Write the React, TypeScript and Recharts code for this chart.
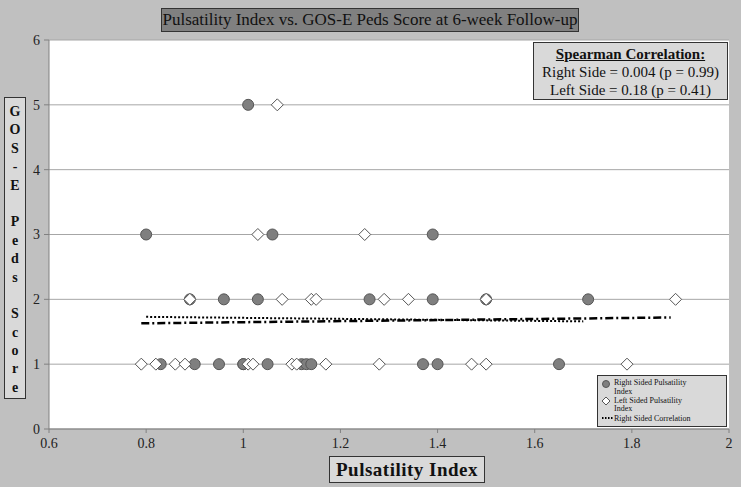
import React from "react";
import { CartesianGrid, ReferenceLine, Scatter, ScatterChart, XAxis, YAxis } from "recharts";

const rightPI = [
  0.83, 0.9, 0.95, 1.0, 1.0, 1.05, 1.12, 1.13, 1.14, 1.37, 1.4, 1.65,
  0.89, 0.96, 1.03, 1.26, 1.39, 1.5, 1.71,
  0.8, 1.06, 1.39,
  1.01,
];
const rightScore = [1, 1, 1, 1, 1, 1, 1, 1, 1, 1, 1, 1, 2, 2, 2, 2, 2, 2, 2, 3, 3, 3, 5];

const leftPI = [
  0.79, 0.82, 0.86, 0.88, 1.01, 1.02, 1.1, 1.11, 1.17, 1.28, 1.47, 1.5, 1.79,
  0.89, 1.08, 1.14, 1.15, 1.29, 1.34, 1.5, 1.89,
  1.03, 1.25,
  1.07,
];
const leftScore = [1, 1, 1, 1, 1, 1, 1, 1, 1, 1, 1, 1, 1, 2, 2, 2, 2, 2, 2, 2, 2, 3, 3, 5];

const rightFitX = [0.8, 1.7];
const rightFitY = [1.73, 1.66];
const leftFitX = [0.79, 1.88];
const leftFitY = [1.63, 1.72];

const xTicks = [0.6, 0.8, 1, 1.2, 1.4, 1.6, 1.8, 2];
const yTicks = [0, 1, 2, 3, 4, 5, 6];

const yLabelLetters = ["G", "O", "S", "-", "E", "", "P", "e", "d", "s", "", "S", "c", "o", "r", "e"];

const rightData = rightPI.map((x, i) => ({ x, y: rightScore[i] }));
const leftData = leftPI.map((x, i) => ({ x, y: leftScore[i] }));

const serif = "'Liberation Serif', 'Times New Roman', serif";

const Circle = (props: any) => (
  <circle cx={props.cx} cy={props.cy} r={5.5} fill="#7f7f7f" stroke="#555" strokeWidth={1} />
);

const Diamond = (props: any) => {
  const { cx, cy } = props;
  const s = 6;
  return (
    <polygon
      points={`${cx},${cy - s} ${cx + s},${cy} ${cx},${cy + s} ${cx - s},${cy}`}
      fill="#fff"
      stroke="#555"
      strokeWidth={1}
    />
  );
};

const tickStyle = { fontFamily: serif, fontSize: 14, fill: "#222" };

export default function App() {
  return (
    <div style={{ position: "absolute", left: 0, top: 0, width: 741, height: 487, background: "#c0c0c0", fontFamily: serif }}>
      <ScatterChart
        width={741}
        height={487}
        margin={{ top: 40, right: 12, left: 0, bottom: 0 }}
        style={{ fontFamily: serif }}
      >
        <CartesianGrid vertical={false} stroke="#a6a6a6" fill="#fff" />
        <XAxis
          type="number"
          dataKey="x"
          domain={[0.6, 2]}
          ticks={xTicks}
          height={58}
          stroke="#808080"
          tickSize={4}
          tick={tickStyle}
          tickMargin={5}
          allowDataOverflow
        />
        <YAxis
          type="number"
          dataKey="y"
          domain={[0, 6]}
          ticks={yTicks}
          width={49}
          stroke="#808080"
          tickSize={5}
          tick={tickStyle}
          tickMargin={4}
        />
        <Scatter data={rightData} shape={Circle} isAnimationActive={false} />
        <Scatter data={leftData} shape={Diamond} isAnimationActive={false} />
        <ReferenceLine
          segment={[
            { x: leftFitX[0], y: leftFitY[0] },
            { x: leftFitX[1], y: leftFitY[1] },
          ]}
          stroke="#000"
          strokeWidth={2.5}
          strokeDasharray="8 3 2 3"
        />
        <ReferenceLine
          segment={[
            { x: rightFitX[0], y: rightFitY[0] },
            { x: rightFitX[1], y: rightFitY[1] },
          ]}
          stroke="#000"
          strokeWidth={2}
          strokeDasharray="2 2"
        />
      </ScatterChart>

      {/* title */}
      <div
        style={{
          position: "absolute", left: 161, top: 8, width: 418, height: 24, boxSizing: "border-box",
          background: "#808080", border: "1px solid #333", fontSize: 17, lineHeight: "22px",
          textAlign: "center", color: "#111", whiteSpace: "nowrap",
        }}
      >
        Pulsatility Index vs. GOS-E Peds Score at 6-week Follow-up
      </div>

      {/* spearman box */}
      <div
        style={{
          position: "absolute", left: 533, top: 42, width: 195, height: 58, boxSizing: "border-box",
          background: "#d9d9d9", border: "1px solid #333", fontSize: 15, lineHeight: "18px",
          textAlign: "center", color: "#111", paddingTop: 2, whiteSpace: "nowrap",
        }}
      >
        <div style={{ fontWeight: "bold", textDecoration: "underline" }}>Spearman Correlation:</div>
        <div>Right Side = 0.004 (p = 0.99)</div>
        <div>Left Side = 0.18 (p = 0.41)</div>
      </div>

      {/* y label */}
      <div
        style={{
          position: "absolute", left: 4, top: 97, width: 22, height: 302, boxSizing: "border-box",
          background: "#d9d9d9", border: "1px solid #333", fontSize: 14, fontWeight: "bold",
          textAlign: "center", color: "#111", paddingTop: 5,
        }}
      >
        {yLabelLetters.map((c, i) => (
          <div key={i} style={{ height: 18.4, lineHeight: "18.4px" }}>{c || "\u00a0"}</div>
        ))}
      </div>

      {/* x label */}
      <div
        style={{
          position: "absolute", left: 329, top: 456, width: 156, height: 27, boxSizing: "border-box",
          background: "#d9d9d9", border: "1px solid #333", fontSize: 19, fontWeight: "bold",
          lineHeight: "25px", textAlign: "center", color: "#111", whiteSpace: "nowrap", letterSpacing: 0.5,
        }}
      >
        Pulsatility Index
      </div>

      {/* legend */}
      <div
        style={{
          position: "absolute", left: 597, top: 375, width: 130, height: 52, boxSizing: "border-box",
          background: "#d9d9d9", border: "1px solid #333", fontSize: 8, lineHeight: "8.5px", color: "#111",
        }}
      >
        <div style={{ position: "absolute", left: 3, top: 3 }}>
          <svg width={10} height={10}><circle cx={5} cy={5} r={3.5} fill="#7f7f7f" stroke="#555" /></svg>
        </div>
        <div style={{ position: "absolute", left: 16, top: 3 }}>Right Sided Pulsatility<br />Index</div>
        <div style={{ position: "absolute", left: 3, top: 20 }}>
          <svg width={10} height={10}><polygon points="5,1 9,5 5,9 1,5" fill="#fff" stroke="#555" /></svg>
        </div>
        <div style={{ position: "absolute", left: 16, top: 20.5 }}>Left Sided Pulsatility<br />Index</div>
        <div style={{ position: "absolute", left: 3, top: 37 }}>
          <svg width={14} height={10}><line x1={1} y1={5} x2={13} y2={5} stroke="#000" strokeWidth={2} strokeDasharray="1.5 1.5" /></svg>
        </div>
        <div style={{ position: "absolute", left: 16, top: 39 }}>Right Sided Correlation</div>
      </div>
    </div>
  );
}
